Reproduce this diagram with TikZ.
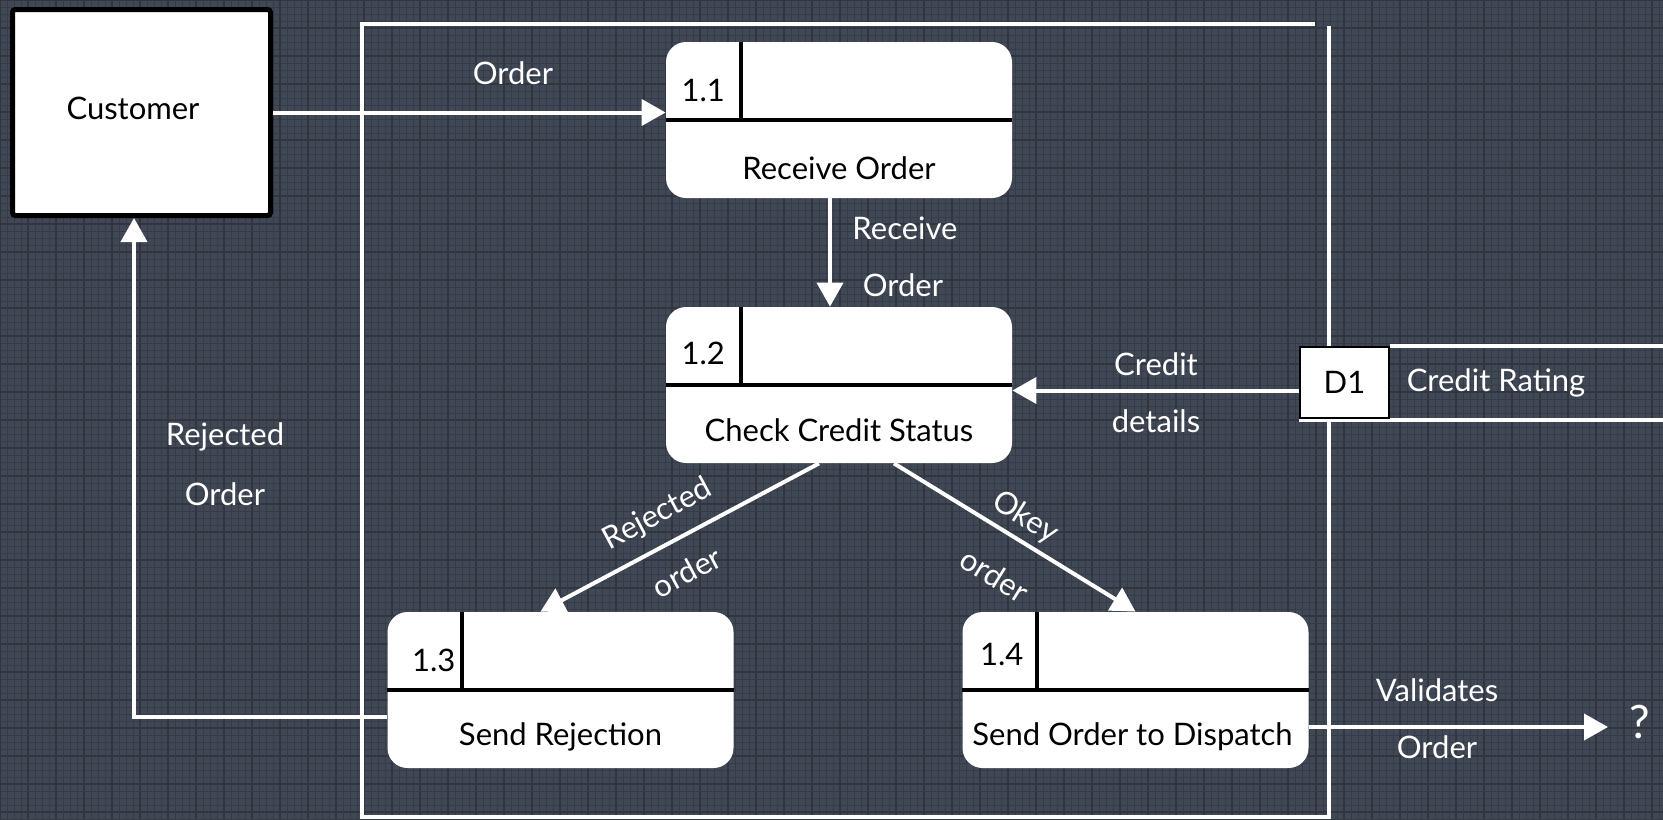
\documentclass[tikz,border=0pt]{standalone}
\usepackage{fontspec}
\setmainfont{Lato}
\usetikzlibrary{arrows.meta,calc}
\definecolor{canvas}{HTML}{404856}
\definecolor{gridc}{HTML}{353B47}
\definecolor{gridmaj}{HTML}{30353F}
\begin{document}
\begin{tikzpicture}[x=0.5pt,y=-0.5pt,
  every node/.style={font=\fontsize{15.5pt}{18pt}\selectfont},
  proc/.style={fill=white, rounded corners=10pt, minimum width=173pt, minimum height=78pt, inner sep=0pt},
  divline/.style={draw=black, line width=2pt},
  ptext/.style={text=black},
  lbl/.style={text=white},
  flow/.style={draw=white, line width=2pt, -{Triangle[length=12pt,width=13pt]}},
  bound/.style={draw=white, line width=2.2pt},
]
% canvas and grid
\useasboundingbox (0,0) rectangle (1663,819);
\fill[canvas] (0,0) rectangle (1663,819);
\foreach \i in {0,...,238} \draw[gridc, line width=0.5pt] (\i*7,0) -- (\i*7,819);
\foreach \j in {0,...,117} \draw[gridc, line width=0.5pt] (0,\j*7) -- (1663,\j*7);
\foreach \i in {0,...,60} \draw[gridmaj, line width=0.6pt] (\i*28,0) -- (\i*28,819);
\foreach \j in {0,...,30} \draw[gridmaj, line width=0.6pt] (0,\j*28) -- (1663,\j*28);

% system boundary
\draw[bound] (1315,24) -- (362,24) -- (362,817) -- (1329,817);
\draw[bound] (1329,26) -- (1329,819);

% external entity
\node[draw=black, line width=2.5pt, fill=white, rounded corners=1.5pt,
      minimum width=129pt, minimum height=103pt, inner sep=0pt] (cust) at (141.5,112.5) {};
\node[ptext] (custlbl) at (133,108) {Customer};

% processes
\node[proc] (p11) at (839,120) {};
\node[proc] (p12) at (839,385) {};
\node[proc] (p13) at (560.5,690) {};
\node[proc] (p14) at (1135.5,690) {};
\foreach \p in {p11,p12,p13,p14}{
  \draw[divline] (\p.west) -- (\p.east);
  \draw[divline] ([xshift=37.5pt]\p.north west) -- ([xshift=37.5pt]\p.west);
}
\node[ptext, anchor=west] (n11) at ($(p11.west)+(9,-30)$) {1.1};
\node[ptext, anchor=west] (n12) at ($(p12.west)+(9,-32)$) {1.2};
\node[ptext, anchor=west] (n13) at ($(p13.west)+(18,-30)$) {1.3};
\node[ptext, anchor=west] (n14) at ($(p14.west)+(11,-36)$) {1.4};
\node[ptext] (t11) at ($(p11.center)+(0,48)$) {Receive Order};
\node[ptext] (t12) at ($(p12.center)+(0,45)$) {Check Credit Status};
\node[ptext] (t13) at ($(p13.center)+(0,47)$) {Send Rejection};
\node[ptext] (t14) at ($(p14.center)+(-3,47)$) {Send Order to Dispatch};

% data store
\coordinate (edge) at (1663,0);
\draw[bound] (1390,346) -- (1390,346 -| edge);
\draw[bound] (1299,420) -- (1299,420 -| edge);
\node[draw=black, line width=1pt, fill=white, minimum width=44.5pt, minimum height=35.5pt,
      inner sep=0pt, text=black] (d1) at (1344.5,382.5) {D1};
\node[lbl] (crlbl) at (1496,383) {Credit Rating};

% unknown sink
\node[lbl, font=\fontsize{23pt}{26pt}\selectfont] (q) at (1640,722) {?};
\coordinate (qtip) at (1608,727);

% data flows
\draw[flow] (cust.east) -- (cust.east -| p11.west);
\draw[flow] ([xshift=-4.5pt]p11.south) -- ([xshift=-4.5pt]p12.north);
\draw[flow] ([yshift=-4pt]d1.west) -- ([yshift=-4pt]d1.west -| p12.east);
\draw[flow] ([xshift=-10pt]p12.south) -- ([xshift=-10pt]p13.north);
\draw[flow] ([xshift=27.5pt]p12.south) -- (p14.north);
\draw[flow] ([yshift=-13.5pt]p13.west) -| ([xshift=-3.75pt]cust.south);
\draw[flow] ([yshift=-18.5pt]p14.east) -- ([yshift=-18.5pt]p14.east -| qtip);

% flow labels
\node[lbl] (l1) at (513,73) {Order};
\node[lbl] (l2a) at (905,228) {Receive};
\node[lbl] (l2b) at (903,285) {Order};
\node[lbl] (l3a) at (1156,364) {Credit};
\node[lbl] (l3b) at (1156,421) {details};
\node[lbl] (l4a) at (225,437) {Rejected};
\node[lbl] (l4b) at (225,494) {Order};
\node[lbl, rotate=28, inner sep=0pt] (l5a) at (658,515) {Rejected};
\node[lbl, rotate=28, inner sep=0pt] (l5b) at (687,572) {order};
\node[lbl, rotate=-32, inner sep=0pt] (l6a) at (1025,518) {Okey};
\node[lbl, rotate=-32, inner sep=0pt] (l6b) at (995,575) {order};
\node[lbl] (l7a) at (1437,690) {Validates};
\node[lbl] (l7b) at (1437,747) {Order};
\end{tikzpicture}
\end{document}
